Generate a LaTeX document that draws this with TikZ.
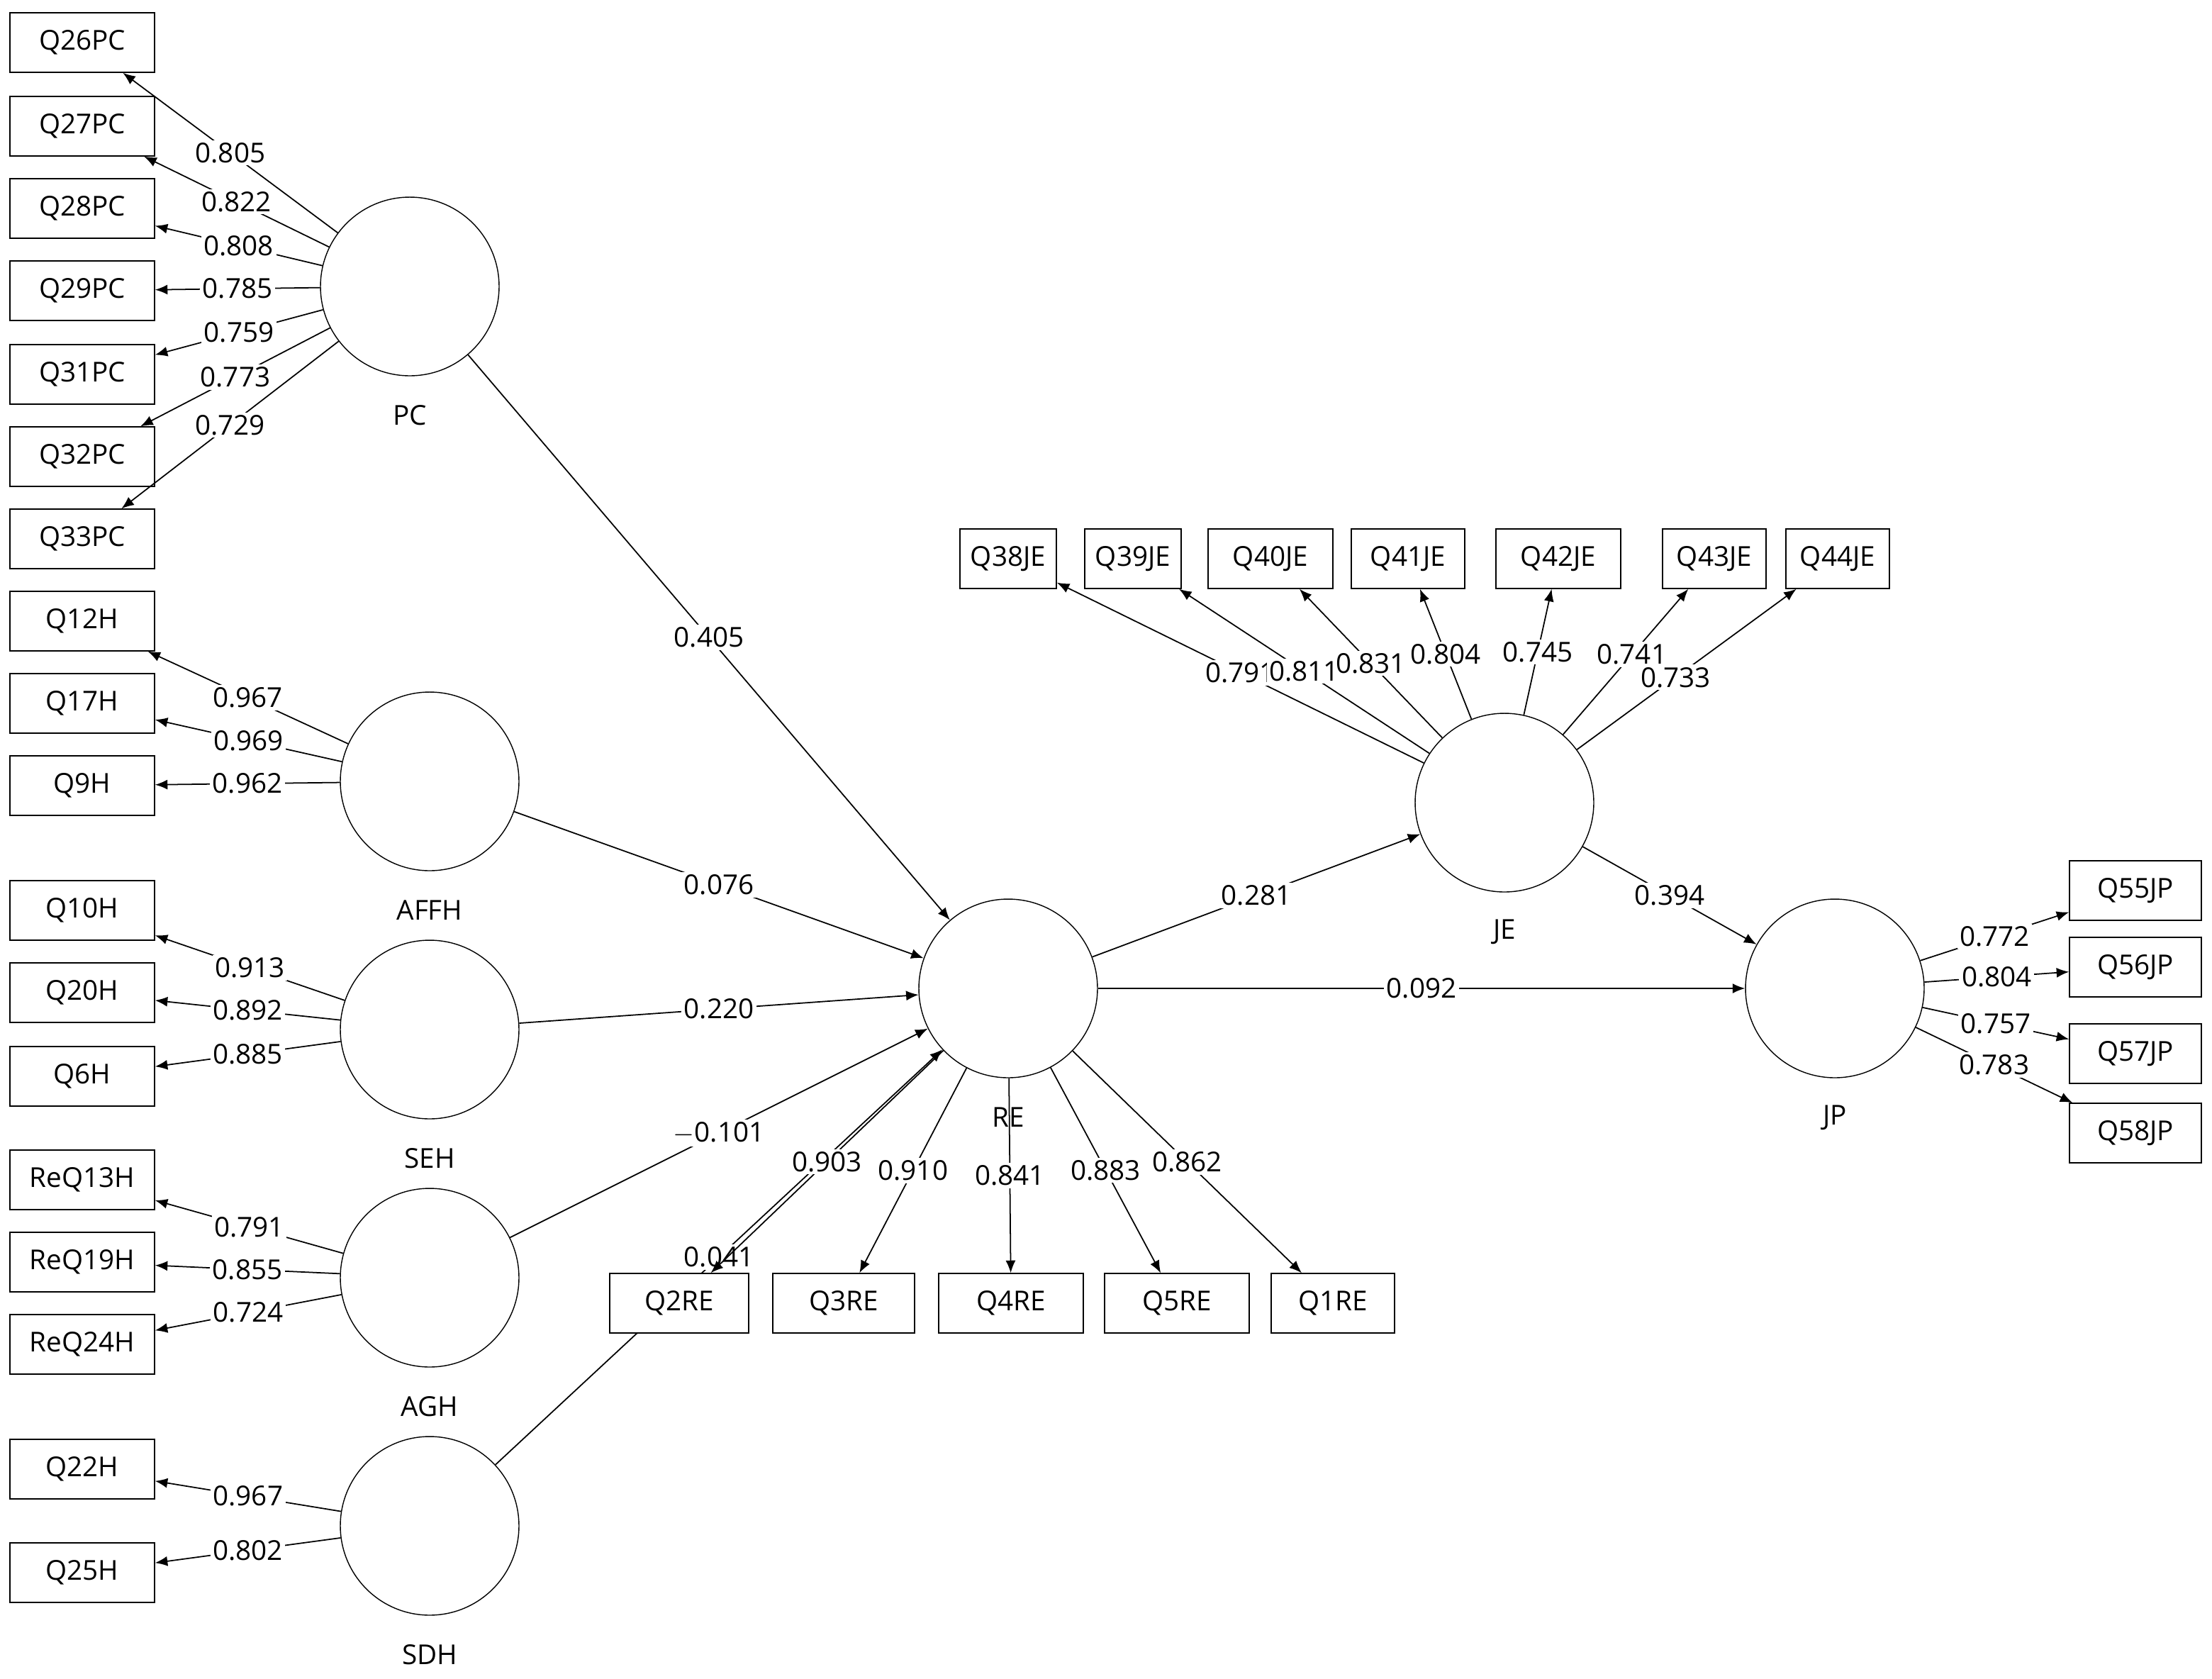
\documentclass[tikz,border=0pt]{standalone}
\usepackage{fontspec}
\setmainfont{Open Sans}
\usetikzlibrary{arrows.meta}
\begin{document}
\begin{tikzpicture}[x=0.02cm,y=-0.02cm,font=\fontsize{11}{13}\selectfont,
 ind/.style={draw,fill=white,minimum width=2.04cm,minimum height=0.84cm,inner sep=1pt},
 lat/.style={draw,circle,minimum size=2.52cm,inner sep=0pt},
 lab/.style={font=\fontsize{11}{13}\selectfont},
 ar/.style={-{Latex[length=5pt,width=4pt]},line width=0.5pt},
 w/.style={fill=white,inner sep=1pt,pos=0.5}]
\useasboundingbox (5,5) rectangle (1565,1189);
% latents
\node[lat] (PC) at (294,207) {};
\node[lat] (AFFH) at (308,556) {};
\node[lat] (SEH) at (308,731) {};
\node[lat] (AGH) at (308,906) {};
\node[lat] (SDH) at (308,1081) {};
\node[lat] (RE) at (716,702) {};
\node[lat] (JE) at (1066,571) {};
\node[lat] (JP) at (1299,702) {};
\node[lab] at (294,298) {PC};
\node[lab] at (308,647) {AFFH};
\node[lab] at (308,822) {SEH};
\node[lab] at (308,997) {AGH};
\node[lab] at (308,1172) {SDH};
\node[lab] at (716,793) {RE};
\node[lab] at (1066,662) {JE};
\node[lab] at (1299,793) {JP};
% structural (drawn first so boxes cover)
\draw[ar] (SDH) -- node[w]{0.041} (RE);
\draw[ar] (PC) -- node[w]{0.405} (RE);
\draw[ar] (AFFH) -- node[w]{0.076} (RE);
\draw[ar] (SEH) -- node[w]{0.220} (RE);
\draw[ar] (AGH) -- node[w]{$-$0.101} (RE);
\draw[ar] (RE) -- node[w]{0.281} (JE);
\draw[ar] (JE) -- node[w]{0.394} (JP);
\draw[ar] (RE) -- node[w]{0.092} (JP);
% indicators
\node[ind] (q26) at (63,35) {Q26PC};
\node[ind] (q27) at (63,94) {Q27PC};
\node[ind] (q28) at (63,152) {Q28PC};
\node[ind] (q29) at (63,210) {Q29PC};
\node[ind] (q31) at (63,269) {Q31PC};
\node[ind] (q32) at (63,327) {Q32PC};
\node[ind] (q33) at (63,385) {Q33PC};
\node[ind] (q12) at (63,443) {Q12H};
\node[ind] (q17) at (63,501) {Q17H};
\node[ind] (q9) at (63,559) {Q9H};
\node[ind] (q10) at (63,647) {Q10H};
\node[ind] (q20) at (63,705) {Q20H};
\node[ind] (q6) at (63,764) {Q6H};
\node[ind] (r13) at (63,837) {ReQ13H};
\node[ind] (r19) at (63,895) {ReQ19H};
\node[ind] (r24) at (63,953) {ReQ24H};
\node[ind] (q22) at (63,1041) {Q22H};
\node[ind] (q25) at (63,1114) {Q25H};
\node[ind,minimum width=1.36cm] (q38) at (716,399) {Q38JE};
\node[ind,minimum width=1.36cm] (q39) at (804,399) {Q39JE};
\node[ind,minimum width=1.76cm] (q40) at (901,399) {Q40JE};
\node[ind,minimum width=1.6cm] (q41) at (998,399) {Q41JE};
\node[ind,minimum width=1.76cm] (q42) at (1104,399) {Q42JE};
\node[ind,minimum width=1.46cm] (q43) at (1214,399) {Q43JE};
\node[ind,minimum width=1.46cm] (q44) at (1301,399) {Q44JE};
\node[ind,minimum width=1.96cm] (q2) at (484,924) {Q2RE};
\node[ind,minimum width=2cm] (q3) at (600,924) {Q3RE};
\node[ind,minimum width=2.04cm] (q4) at (718,924) {Q4RE};
\node[ind,minimum width=2.04cm] (q5) at (835,924) {Q5RE};
\node[ind,minimum width=1.74cm] (q1) at (945,924) {Q1RE};
\node[ind,minimum width=1.86cm] (q55) at (1511,633) {Q55JP};
\node[ind,minimum width=1.86cm] (q56) at (1511,687) {Q56JP};
\node[ind,minimum width=1.86cm] (q57) at (1511,748) {Q57JP};
\node[ind,minimum width=1.86cm] (q58) at (1511,804) {Q58JP};
% loadings
\draw[ar] (PC) -- node[w]{0.805} (q26);
\draw[ar] (PC) -- node[w]{0.822} (q27);
\draw[ar] (PC) -- node[w]{0.808} (q28);
\draw[ar] (PC) -- node[w]{0.785} (q29);
\draw[ar] (PC) -- node[w]{0.759} (q31);
\draw[ar] (PC) -- node[w]{0.773} (q32);
\draw[ar] (PC) -- node[w]{0.729} (q33);
\draw[ar] (AFFH) -- node[w]{0.967} (q12);
\draw[ar] (AFFH) -- node[w]{0.969} (q17);
\draw[ar] (AFFH) -- node[w]{0.962} (q9);
\draw[ar] (SEH) -- node[w]{0.913} (q10);
\draw[ar] (SEH) -- node[w]{0.892} (q20);
\draw[ar] (SEH) -- node[w]{0.885} (q6);
\draw[ar] (AGH) -- node[w]{0.791} (r13);
\draw[ar] (AGH) -- node[w]{0.855} (r19);
\draw[ar] (AGH) -- node[w]{0.724} (r24);
\draw[ar] (SDH) -- node[w]{0.967} (q22);
\draw[ar] (SDH) -- node[w]{0.802} (q25);
\draw[ar] (JE) -- node[w]{0.791} (q38);
\draw[ar] (JE) -- node[w]{0.811} (q39);
\draw[ar] (JE) -- node[w]{0.831} (q40);
\draw[ar] (JE) -- node[w]{0.804} (q41);
\draw[ar] (JE) -- node[w]{0.745} (q42);
\draw[ar] (JE) -- node[w,pos=0.55]{0.741} (q43);
\draw[ar] (JE) -- node[w,pos=0.45]{0.733} (q44);
\draw[ar] (RE) -- node[w]{0.903} (q2);
\draw[ar] (RE) -- node[w]{0.910} (q3);
\draw[ar] (RE) -- node[w]{0.841} (q4);
\draw[ar] (RE) -- node[w]{0.883} (q5);
\draw[ar] (RE) -- node[w]{0.862} (q1);
\draw[ar] (JP) -- node[w]{0.772} (q55);
\draw[ar] (JP) -- node[w]{0.804} (q56);
\draw[ar] (JP) -- node[w]{0.757} (q57);
\draw[ar] (JP) -- node[w]{0.783} (q58);
\end{tikzpicture}
\end{document}
